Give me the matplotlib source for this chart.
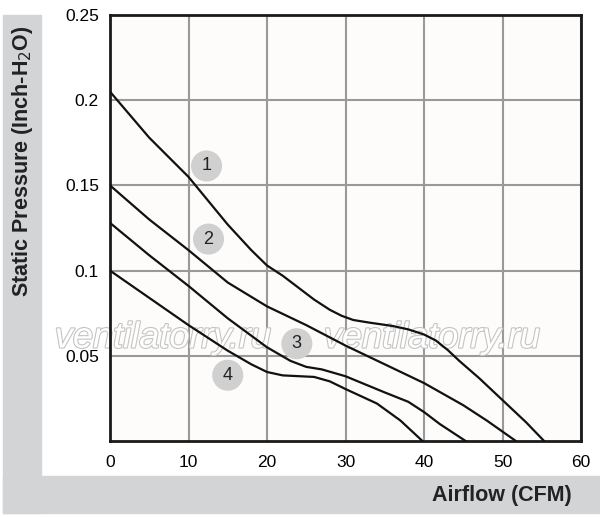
import matplotlib
matplotlib.use('Agg')
import matplotlib.pyplot as plt
import matplotlib.patheffects as pe
from matplotlib.patches import Rectangle

plt.rcParams['font.family'] = ['Liberation Sans', 'DejaVu Sans']

# fan curves: airflow (CFM) vs static pressure (inch H2O)
x1 = [0, 5, 10, 15, 18, 20, 22, 26, 28, 29.5, 31, 33, 36, 38, 40, 41.5, 43, 44.5, 47, 50, 53, 55.3]
y1 = [0.205, 0.178, 0.155, 0.127, 0.112, 0.103, 0.097, 0.083, 0.077, 0.0735, 0.071, 0.0695, 0.0675, 0.0655, 0.0625, 0.059, 0.0535, 0.047, 0.037, 0.024, 0.011, 0]
x2 = [0, 5, 10, 15, 20, 25, 30, 35, 40, 45, 48, 51.7]
y2 = [0.15, 0.130, 0.112, 0.093, 0.079, 0.068, 0.056, 0.045, 0.034, 0.021, 0.012, 0]
x3 = [0, 5, 10, 15, 20, 23, 25, 27, 30, 35, 38, 40, 42, 45.3]
y3 = [0.128, 0.109, 0.091, 0.072, 0.055, 0.047, 0.0435, 0.042, 0.038, 0.0285, 0.023, 0.017, 0.01, 0]
x4 = [0, 5, 10, 15, 18, 20, 22, 26, 28, 30, 34, 37, 39.8]
y4 = [0.1, 0.084, 0.068, 0.053, 0.045, 0.0405, 0.0385, 0.0376, 0.035, 0.0305, 0.022, 0.012, 0]

# numbered markers
mark_labels = ['1', '2', '3', '4']
mark_x = [12.3, 12.55, 23.8, 15.0]
mark_y = [0.1614, 0.1185, 0.0571, 0.0386]

xticks = [0, 10, 20, 30, 40, 50, 60]
yticks = [0.05, 0.1, 0.15, 0.2, 0.25]
ytick_labels = ['0.05', '0.1', '0.15', '0.2', '0.25']

fig = plt.figure(figsize=(6, 5.17), dpi=100)
W, H = 600, 517

# grey L-shaped label bands
band = '#d3d4d6'
fig.patches.append(Rectangle((3 / W, 1 - 513 / H), 38 / W, 498 / H, transform=fig.transFigure,
                             color=band, zorder=0))
fig.patches.append(Rectangle((3 / W, 1 - 513 / H), 597 / W, 37 / H, transform=fig.transFigure,
                             color=band, zorder=0))

ax = fig.add_axes([110 / W, 1 - 441 / H, 471 / W, 426 / H])
ax.set_facecolor('#fdfcfa')

for xs, ys in [(x1, y1), (x2, y2), (x3, y3), (x4, y4)]:
    ax.plot(xs, ys, color='#111111', lw=1.6, zorder=3)

ax.scatter(mark_x, mark_y, s=500, color='#d0d0d0', zorder=4, edgecolors='none')
for lab, mx, my in zip(mark_labels, mark_x, mark_y):
    ax.text(mx, my, lab, ha='center', va='center', fontsize=13, color='#222222', zorder=5)

ax.set_xlim(0, 60)
ax.set_ylim(0, 0.25)
ax.set_xticks(xticks)
ax.set_yticks(yticks)
ax.set_yticklabels(ytick_labels)
ax.tick_params(length=0, labelsize=12.5)
ax.tick_params(axis='y', pad=8)
ax.tick_params(axis='x', pad=10)
ax.grid(True, color='#999999', lw=1.5)
ax.set_axisbelow(True)
for s in ax.spines.values():
    s.set_linewidth(2)
    s.set_color('#1a1a1a')

# watermark text, outlined, under the curves
for cx in [163, 432]:
    ax.text(cx / W, 1 - 338 / H, 'ventilatorry.ru', ha='center', va='center', fontsize=26,
            style='italic', color='white', zorder=2, transform=fig.transFigure, clip_on=False,
            path_effects=[pe.Stroke(linewidth=1.6, foreground='#c4c4c4'), pe.Normal()])

fig.text(572 / W, 1 - 495 / H, 'Airflow (CFM)', ha='right', va='center', fontsize=15.5,
         fontweight='bold', color='#222222')
fig.text(23 / W, 1 - 25 / H, 'Static Pressure (Inch-H$_2$O)', ha='center', va='top',
         rotation=90, fontsize=15.5, fontweight='bold', color='#222222')

fig.savefig('out.png', dpi=100)
